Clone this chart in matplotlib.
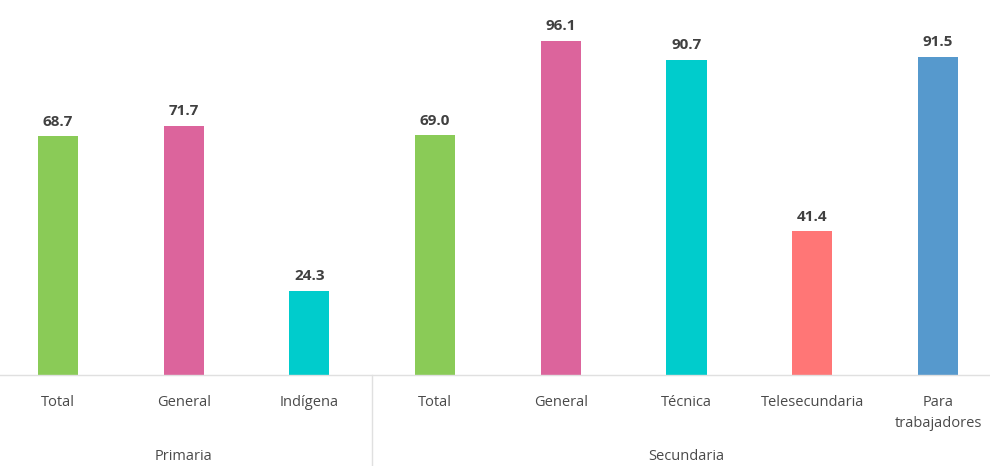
import matplotlib.pyplot as plt
import numpy as np

plt.rcParams['font.family'] = ['Open Sans', 'DejaVu Sans']

categories = ['Total', 'General', 'Indígena', 'Total', 'General', 'Técnica',
              'Telesecundaria', 'Para\ntrabajadores']
values = [68.7, 71.7, 24.3, 69.0, 96.1, 90.7, 41.4, 91.5]
colors = ['#8ACB57', '#DC649C', '#00CCCC', '#8ACB57', '#DC649C', '#00CCCC',
          '#FF7676', '#5699CD']
groups = ['Primaria', 'Secundaria']
group_spans = [(0, 2), (3, 7)]

fig = plt.figure(figsize=(9.9, 4.66), dpi=100)
ax = fig.add_axes([0, 0.195, 1, 0.805])

x = np.arange(len(values))
bars = ax.bar(x, values, width=0.32, color=colors)

for b, v in zip(bars, values):
    ax.text(b.get_x() + b.get_width() / 2, v + 2.2, f'{v:.1f}',
            ha='center', va='bottom', fontsize=11, fontweight='bold',
            color='#404040')

ax.set_xlim(-0.461, 7.414)
ax.set_ylim(0, 107.9)
ax.set_yticks([])
ax.set_xticks(x)
ax.set_xticklabels(categories, fontsize=10.5, color='#4A4A4A', va='top',
                   linespacing=1.55, fontweight='medium')
ax.tick_params(axis='x', length=0, pad=14)

for side in ['top', 'right', 'left']:
    ax.spines[side].set_visible(False)
ax.spines['bottom'].set_color('#E0E0E0')
ax.spines['bottom'].set_linewidth(1)

# group labels under the category ticks
for name, (a, b) in zip(groups, group_spans):
    ax.text((a + b) / 2, -23.3, name, ha='center', va='center',
            fontsize=10.5, color='#4A4A4A', fontweight='medium',
            clip_on=False)

# divider between the two groups
ax.plot([2.5, 2.5], [0, -27], color='#E0E0E0', lw=1, clip_on=False)

fig.savefig('out.png', dpi=100)
